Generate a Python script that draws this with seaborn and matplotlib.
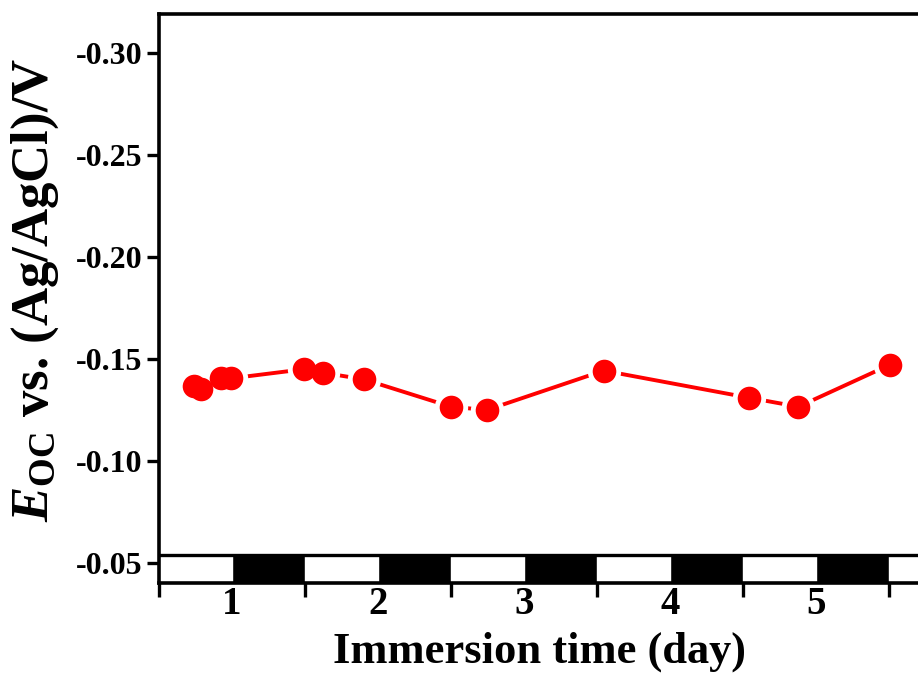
import numpy as np
import pandas as pd
import matplotlib
matplotlib.use("Agg")
import matplotlib.pyplot as plt
import seaborn as sns

# ---------------------------------------------------------------------------
# Data: open-circuit potential vs immersion time
# ---------------------------------------------------------------------------
time_h = [5.8, 6.9, 10.2, 11.8, 23.9, 26.9, 33.7, 48.0, 53.9, 73.1, 97.0, 105.1, 120.1]
e_oc = [-0.1368, -0.1351, -0.1405, -0.1405, -0.1450, -0.1433, -0.1400,
        -0.1266, -0.1250, -0.1443, -0.1310, -0.1266, -0.1471]

# light/dark cycle strip (hours)
dark_start = [12, 36, 60, 84, 108]
dark_len = 12
strip_top = -0.0539
strip_bottom = -0.0402

day_labels = ["1", "2", "3", "4", "5"]
day_centres = [12, 36, 60, 84, 108]
day_bounds = [0, 24, 48, 72, 96, 120]
y_ticks = [-0.30, -0.25, -0.20, -0.15, -0.10, -0.05]

df = pd.DataFrame({"time": time_h, "eoc": e_oc})

sns.set_style("ticks", {"axes.edgecolor": "black", "text.color": "black",
                        "xtick.color": "black", "ytick.color": "black",
                        "axes.labelcolor": "black"})
plt.rcParams["font.family"] = ["Liberation Serif", "DejaVu Serif"]
plt.rcParams["font.weight"] = "bold"
plt.rcParams["mathtext.fontset"] = "custom"
plt.rcParams["mathtext.rm"] = "Liberation Serif:bold"
plt.rcParams["mathtext.bf"] = "Liberation Serif:bold"
plt.rcParams["mathtext.it"] = "Liberation Serif:italic:bold"

fig = plt.figure(figsize=(9.18, 6.74), dpi=100)
ax = fig.add_axes([159 / 918, 91 / 674, 766.5 / 918, 569 / 674])

# line, then white halo markers, then red markers (Origin-style gaps)
sns.lineplot(data=df, x="time", y="eoc", color="#ff0000", lw=2.8, ax=ax,
             sort=False, zorder=2)
ax.scatter(df["time"], df["eoc"], s=24 ** 2, color="white", zorder=3,
           linewidths=0)
sns.scatterplot(data=df, x="time", y="eoc", color="#ff0000", s=17 ** 2,
                linewidth=0, ax=ax, zorder=4)

# day/night strip
ax.bar(dark_start, strip_top - strip_bottom, bottom=strip_bottom, width=dark_len,
       align="edge", color="black", zorder=1)
ax.axhline(strip_top, color="black", lw=2.4, zorder=1)

ax.set_xlim(0, 126)
ax.set_ylim(strip_bottom, -0.3191)

ax.set_yticks(y_ticks)
ax.set_yticklabels([f"{v:.2f}" for v in y_ticks])
ax.set_xticks(day_bounds)
ax.set_xticklabels([""] * len(day_bounds))
ax.set_xticks(day_centres, minor=True)
ax.set_xticklabels(day_labels, minor=True)

ax.tick_params(axis="y", which="major", direction="out", length=9, width=2.4,
               labelsize=23, pad=3)
ax.tick_params(axis="x", which="major", direction="out", length=10, width=2.4)
ax.tick_params(axis="x", which="minor", length=0, labelsize=28, pad=2)

for side in ["left", "top", "bottom"]:
    ax.spines[side].set_linewidth(2.6)
ax.spines["right"].set_visible(False)

ax.set_xlabel("Immersion time (day)", fontsize=32, fontweight="bold",
              va="baseline")
ax.xaxis.set_label_coords(0.497, -80 / 569)
ax.set_ylabel(r"$\mathit{E}_{\mathbf{OC}}$ vs. (Ag/AgCl)/V", fontsize=38,
              fontweight="bold", va="center")
ax.yaxis.set_label_coords(-124 / 766.5, 293 / 569)

fig.savefig("out.png", dpi=100)
